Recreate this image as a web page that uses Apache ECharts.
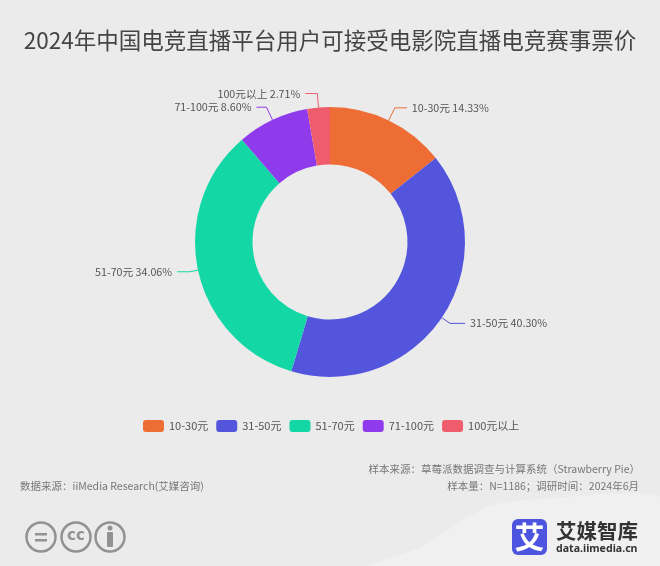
<!DOCTYPE html>
<html>
<head>
<meta charset="utf-8">
<style>
  html, body { margin: 0; padding: 0; background: #ebebeb; }
  #chart { width: 660px; height: 566px; }
</style>
<script src="https://cdn.jsdelivr.net/npm/echarts@6/dist/echarts.min.js"></script>
</head>
<body>
<div id="chart"></div>
<script>
const titleText = '2024年中国电竞直播平台用户可接受电影院直播电竞赛事票价';
const categories = ['10-30元', '31-50元', '51-70元', '71-100元', '100元以上'];
const shares = [14.33, 40.30, 34.06, 8.60, 2.71];
const colors = ['#ed6d35', '#5355dc', '#13d8a5', '#8f3bec', '#ef5d6c'];
const lineLengths = [14, 10, 8, 14, 14];
const lineLengths2 = [12, 15, 13, 10, 12];
const fontName = '"Noto Sans CJK SC", "Noto Sans", sans-serif';

const chart = echarts.init(document.getElementById('chart'));

// small helper for the footer text
function footerText(text, x, y, align) {
    return {
        type: 'text', z: 5,
        style: { text: text, x: x, y: y, align: align, verticalAlign: 'middle', fill: '#777', font: '10.5px ' + fontName }
    };
}

function ccCircle(cx) {
    return { type: 'circle', shape: { cx: cx, cy: 537, r: 14.5 }, style: { fill: 'none', stroke: '#929292', lineWidth: 2.5 } };
}

chart.setOption({
    backgroundColor: '#ebebeb',
    animation: false,
    title: {
        text: titleText,
        left: 'center',
        top: 24,
        textStyle: { color: '#444', fontSize: 22.5, fontWeight: 'normal', fontFamily: fontName }
    },
    legend: {
        data: categories,
        left: 138,
        top: 415,
        itemWidth: 21,
        itemHeight: 12,
        itemGap: 8,
        itemStyle: { borderRadius: 3 },
        textStyle: { color: '#555', fontSize: 11, fontFamily: fontName }
    },
    color: colors,
    series: [{
        type: 'pie',
        center: [330, 242],
        radius: [77.5, 135],
        startAngle: 90,
        data: categories.map((name, i) => ({
            name: name,
            value: shares[i],
            labelLine: { length: lineLengths[i], length2: lineLengths2[i] }
        })),
        label: {
            color: '#555',
            fontSize: 10.7,
            fontFamily: fontName,
            formatter: p => p.name + ' ' + p.value.toFixed(2) + '%'
        },
        labelLine: { lineStyle: { width: 1 } }
    }],
    graphic: { elements: [
        // lighter swoosh behind the logo
        {
            type: 'polygon', z: 0,
            shape: { points: [[370, 566], [421, 547], [463, 520], [492, 505], [526, 500], [660, 497], [660, 566]], smooth: 0.2 },
            style: { fill: '#f0f0f0' }
        },
        footerText('样本来源：草莓派数据调查与计算系统（Strawberry Pie）', 640, 469, 'right'),
        footerText('样本量：N=1186；调研时间：2024年6月', 639, 486, 'right'),
        footerText('数据来源：iiMedia Research(艾媒咨询)', 20, 486, 'left'),
        ccCircle(41), ccCircle(76), ccCircle(110),
        { type: 'rect', shape: { x: 35, y: 533, width: 12, height: 2.5 }, style: { fill: '#929292' } },
        { type: 'rect', shape: { x: 35, y: 539, width: 12, height: 2.5 }, style: { fill: '#929292' } },
        { type: 'text', style: { text: 'cc', x: 76, y: 536, align: 'center', verticalAlign: 'middle', fill: '#929292', font: 'bold 15px "DejaVu Sans"' } },
        { type: 'circle', shape: { cx: 110, cy: 528, r: 2.5 }, style: { fill: '#929292' } },
        { type: 'rect', shape: { x: 107, y: 532, width: 6, height: 15, r: 1 }, style: { fill: '#929292' } },
        // logo
        { type: 'rect', shape: { x: 512, y: 519, width: 35, height: 36, r: 6 }, style: { fill: '#4d55e0' } },
        { type: 'text', style: { text: '艾', x: 529.5, y: 537, align: 'center', verticalAlign: 'middle', fill: '#fff', font: 'bold 30px "Noto Sans CJK SC"' } },
        { type: 'text', style: { text: '艾媒智库', x: 556, y: 531, align: 'left', verticalAlign: 'middle', fill: '#333', font: 'bold 20.5px "Noto Sans CJK SC"' } },
        { type: 'text', style: { text: 'data.iimedia.cn', x: 556, y: 549, align: 'left', verticalAlign: 'middle', fill: '#333', font: 'bold 10.6px "Noto Sans", sans-serif' } }
    ] }
});
</script>
</body>
</html>
